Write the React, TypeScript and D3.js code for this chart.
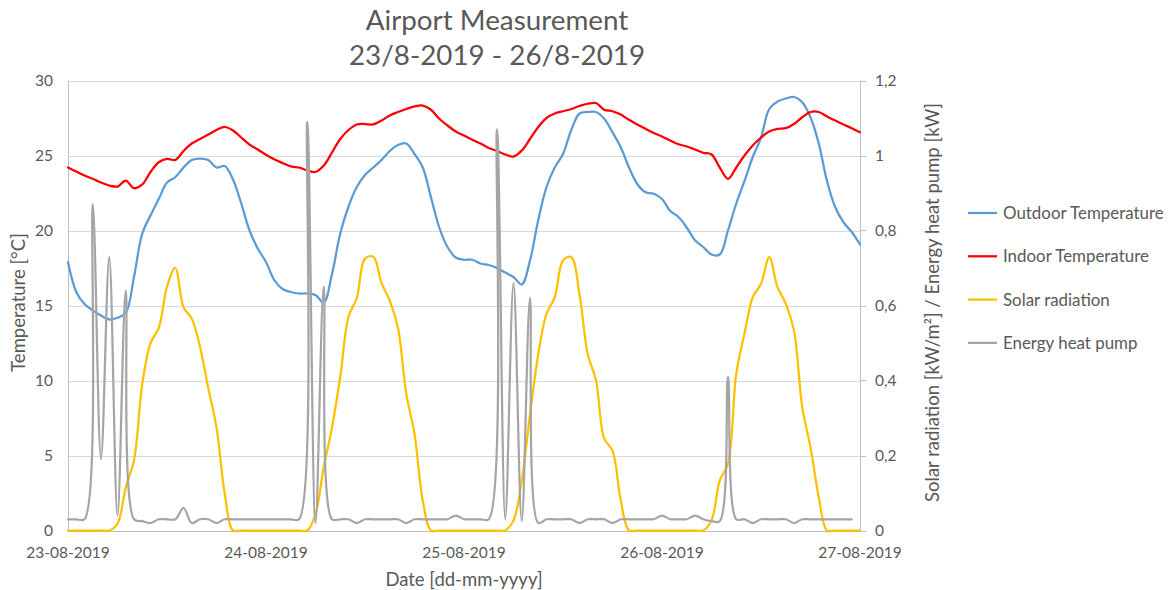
import React from "react";
import * as d3 from "d3";

// Hourly readings, 23-08-2019 00:00 onward
const dateLabels = ["23-08-2019", "24-08-2019", "25-08-2019", "26-08-2019", "27-08-2019"];

const outdoorTemperature = [
  17.9, 15.9, 15.1, 14.67, 14.33, 14.07, 14.18, 14.5, 16.9, 19.8, 21.0, 22.1, 23.2, 23.55, 24.2, 24.7,
  24.8, 24.7, 24.2, 24.3, 23.4, 21.8, 20.0, 18.8, 17.9, 16.7, 16.1, 15.9, 15.8, 15.8, 15.7, 15.2,
  17.1, 19.8, 21.6, 22.9, 23.7, 24.2, 24.7, 25.3, 25.7, 25.8, 25.1, 24.2, 22.2, 20.2, 18.9, 18.2,
  18.05, 18.05, 17.8, 17.7, 17.5, 17.2, 16.9, 16.4, 18.0, 20.7, 22.9, 24.2, 25.1, 26.7, 27.8, 27.9,
  27.9, 27.45, 26.55, 25.55, 24.2, 23.1, 22.55, 22.45, 22.1, 21.3, 20.9, 20.2, 19.35, 18.9, 18.4, 18.4,
  20.0, 21.8, 23.3, 24.9, 26.2, 28.1, 28.6, 28.8, 28.9, 28.55, 27.55, 25.8, 23.3, 21.55, 20.55, 19.9,
  19.07,
];

const indoorTemperature = [
  24.2, 23.93, 23.67, 23.45, 23.2, 23.0, 22.93, 23.33, 22.82, 23.07, 23.9, 24.55, 24.78, 24.7, 25.3, 25.8,
  26.1, 26.4, 26.7, 26.9, 26.67, 26.2, 25.73, 25.4, 25.05, 24.75, 24.5, 24.27, 24.2, 24.0, 23.9, 24.33,
  25.2, 26.1, 26.7, 27.07, 27.1, 27.07, 27.33, 27.67, 27.9, 28.1, 28.27, 28.33, 28.05, 27.45, 27.0, 26.6,
  26.33, 26.05, 25.8, 25.5, 25.3, 25.07, 24.93, 25.33, 26.1, 26.9, 27.5, 27.8, 27.95, 28.1, 28.3, 28.45,
  28.5, 28.05, 27.95, 27.73, 27.38, 27.07, 26.78, 26.5, 26.27, 26.0, 25.75, 25.6, 25.4, 25.18, 25.07, 24.2,
  23.45, 24.2, 25.0, 25.67, 26.2, 26.6, 26.78, 26.82, 27.1, 27.55, 27.9, 27.9, 27.6, 27.33, 27.07, 26.82,
  26.55,
];

const solarRadiation = [
  0, 0, 0, 0, 0, 0, 0.018, 0.115, 0.187, 0.39, 0.5, 0.54, 0.65, 0.7, 0.595, 0.565,
  0.49, 0.38, 0.275, 0.098, 0, 0, 0, 0, 0, 0, 0, 0, 0, 0, 0.044, 0.169,
  0.275, 0.41, 0.57, 0.62, 0.725, 0.73, 0.66, 0.613, 0.54, 0.365, 0.258, 0.08, 0, 0, 0, 0,
  0, 0, 0, 0, 0, 0, 0.027, 0.133, 0.31, 0.47, 0.578, 0.622, 0.72, 0.729, 0.63, 0.47,
  0.4, 0.245, 0.213, 0.08, 0, 0, 0, 0, 0, 0, 0, 0, 0, 0, 0.027, 0.133,
  0.178, 0.418, 0.525, 0.622, 0.658, 0.729, 0.649, 0.605, 0.533, 0.329, 0.222, 0.089, 0, 0, 0, 0,
  0,
];

const energyHeatPump = [
  0.03, 0.03, 0.03, 0.87, 0.19, 0.73, 0.04, 0.64, 0.03, 0.025, 0.02, 0.03, 0.03, 0.03, 0.06, 0.02,
  0.03, 0.03, 0.02, 0.03, 0.03, 0.03, 0.03, 0.03, 0.03, 0.03, 0.03, 0.03, 0.03, 1.09, 0.02, 0.65,
  0.03, 0.03, 0.03, 0.02, 0.03, 0.03, 0.03, 0.03, 0.03, 0.02, 0.03, 0.03, 0.03, 0.03, 0.03, 0.04,
  0.03, 0.03, 0.03, 0.03, 1.07, 0.03, 0.66, 0.025, 0.62, 0.02, 0.03, 0.03, 0.03, 0.03, 0.02, 0.03,
  0.03, 0.03, 0.02, 0.03, 0.03, 0.03, 0.03, 0.03, 0.04, 0.03, 0.03, 0.03, 0.04, 0.03, 0.025, 0.025,
  0.41, 0.03, 0.03, 0.02, 0.03, 0.03, 0.03, 0.03, 0.02, 0.03, 0.03, 0.03, 0.03, 0.03, 0.03, 0.03,
];

const temperatureTicks = [0, 5, 10, 15, 20, 25, 30];
const powerTicks = [0, 0.2, 0.4, 0.6, 0.8, 1.0, 1.2];

const seriesNames = ["Outdoor Temperature", "Indoor Temperature", "Solar radiation", "Energy heat pump"];
const seriesColors = ["#5B9BD5", "#FF0000", "#FFC000", "#A5A5A5"];

const W = 1172;
const H = 590;
const plot = { left: 68, right: 860, top: 80.5, bottom: 530.5 };
const FONT = "Lato, 'Open Sans', sans-serif";
const TEXT = "#595959";
const FS_TICK = 15.5;
const FS_LEGEND = 16.9;
const FS_AXIS = 18.5;
const FS_TITLE = 27.8;

const commaLocale = d3.formatLocale({ decimal: ",", thousands: ".", grouping: [3], currency: ["", "€"] });
const fmtPower = commaLocale.format(".1~f");

export default function App() {
  const x = d3.scaleLinear().domain([0, 96]).range([plot.left, plot.right]);
  const yT = d3.scaleLinear().domain([0, 30]).range([plot.bottom, plot.top]);
  const yP = d3.scaleLinear().domain([0, 1.2]).range([plot.bottom, plot.top]);

  const lineT = d3
    .line<number>()
    .x((_, i) => x(i))
    .y((d) => yT(d))
    .curve(d3.curveCatmullRom.alpha(0.5));
  const lineP = d3
    .line<number>()
    .x((_, i) => x(i))
    .y((d) => yP(d))
    .curve(d3.curveCatmullRom.alpha(0.5));

  const series = [
    { d: lineT(outdoorTemperature), c: seriesColors[0] },
    { d: lineT(indoorTemperature), c: seriesColors[1] },
    { d: lineP(solarRadiation), c: seriesColors[2] },
    { d: lineP(energyHeatPump), c: seriesColors[3] },
  ];

  const midY = 302.5;

  return (
    <svg
      width={W}
      height={H}
      style={{ position: "absolute", left: 0, top: 0, background: "#fff" }}
      fontFamily={FONT}
    >
      <rect width={W} height={H} fill="#fff" />

      {/* title */}
      <text x={497} y={30} textAnchor="middle" fontSize={FS_TITLE} fill={TEXT}>
        Airport Measurement
      </text>
      <text x={497} y={65} textAnchor="middle" fontSize={FS_TITLE} fill={TEXT}>
        23/8-2019 - 26/8-2019
      </text>

      {/* horizontal gridlines */}
      {temperatureTicks.map((t) => (
        <line
          key={"g" + t}
          x1={plot.left}
          x2={plot.right}
          y1={Math.round(yT(t)) + 0.5}
          y2={Math.round(yT(t)) + 0.5}
          stroke="#D9D9D9"
          strokeWidth={1}
        />
      ))}

      {/* axis lines */}
      <line x1={plot.left + 0.5} x2={plot.left + 0.5} y1={plot.top} y2={plot.bottom} stroke="#BFBFBF" />
      <line x1={plot.right + 0.5} x2={plot.right + 0.5} y1={plot.top} y2={plot.bottom} stroke="#BFBFBF" />
      <line x1={plot.left} x2={plot.right} y1={Math.round(plot.bottom) + 0.5} y2={Math.round(plot.bottom) + 0.5} stroke="#BFBFBF" />
      {powerTicks.map((p) => (
        <line
          key={"rt" + p}
          x1={plot.right}
          x2={plot.right + 6}
          y1={Math.round(yP(p)) + 0.5}
          y2={Math.round(yP(p)) + 0.5}
          stroke="#BFBFBF"
        />
      ))}

      {/* left tick labels */}
      {temperatureTicks.map((t) => (
        <text key={"lt" + t} x={53} y={yT(t)} dy="0.36em" textAnchor="end" fontSize={FS_TICK} fill={TEXT}>
          {t}
        </text>
      ))}
      {/* right tick labels */}
      {powerTicks.map((p) => (
        <text key={"rl" + p} x={875} y={yP(p)} dy="0.36em" textAnchor="start" fontSize={FS_TICK} fill={TEXT}>
          {fmtPower(p)}
        </text>
      ))}
      {/* x tick labels */}
      {dateLabels.map((lab, i) => (
        <text key={lab} x={x(i * 24)} y={558} textAnchor="middle" fontSize={FS_TICK} fill={TEXT}>
          {lab}
        </text>
      ))}

      {/* axis titles */}
      <text x={464} y={586} textAnchor="middle" fontSize={FS_AXIS} fill={TEXT}>
        Date [dd-mm-yyyy]
      </text>
      <text
        transform={`translate(18.5,${midY}) rotate(-90)`}
        dy="0.36em"
        textAnchor="middle"
        fontSize={FS_AXIS}
        fill={TEXT}
      >
        Temperature [°C]
      </text>
      <text
        transform={`translate(932.5,${midY}) rotate(-90)`}
        dy="0.36em"
        textAnchor="middle"
        fontSize={FS_AXIS}
        fill={TEXT}
      >
        Solar radiation [kW/m²] / Energy heat pump [kW]
      </text>

      {/* series */}
      <g fill="none" strokeWidth={2.25} strokeLinejoin="round" strokeLinecap="round">
        {series.map((s, i) => (
          <path key={i} d={s.d ?? ""} stroke={s.c} />
        ))}
      </g>

      {/* legend */}
      {seriesNames.map((name, i) => {
        const ly = 213 + i * 43.3;
        return (
          <g key={name}>
            <line x1={968} x2={997} y1={ly} y2={ly} stroke={seriesColors[i]} strokeWidth={2.25} />
            <text x={1003} y={ly} dy="0.36em" fontSize={FS_LEGEND} fill={TEXT}>
              {name}
            </text>
          </g>
        );
      })}
    </svg>
  );
}
